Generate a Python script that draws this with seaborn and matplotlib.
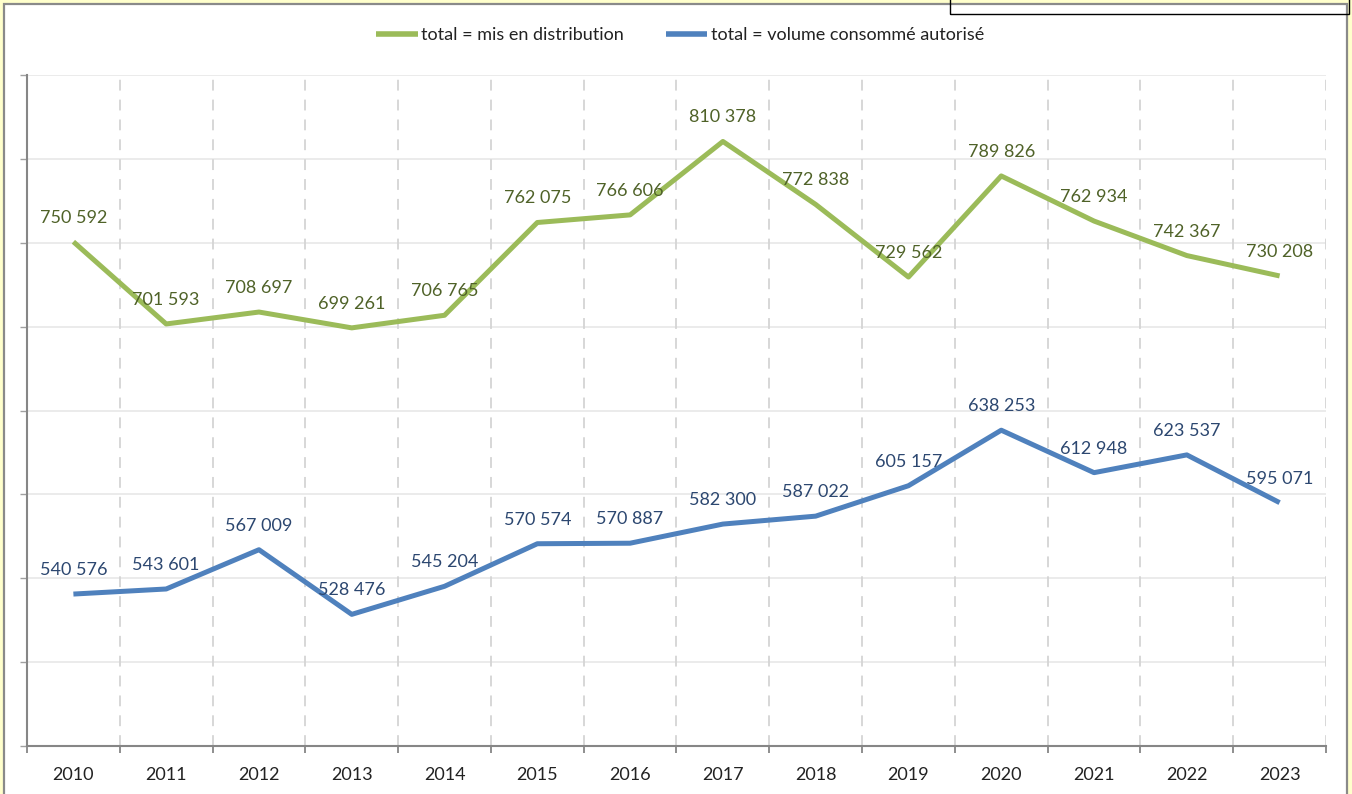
import numpy as np
import pandas as pd
import matplotlib
matplotlib.use("Agg")
import matplotlib.pyplot as plt
from matplotlib.patches import Rectangle
import seaborn as sns

years = ["2010", "2011", "2012", "2013", "2014", "2015", "2016",
         "2017", "2018", "2019", "2020", "2021", "2022", "2023"]
mis_en_distribution = [750592, 701593, 708697, 699261, 706765, 762075, 766606,
                       810378, 772838, 729562, 789826, 762934, 742367, 730208]
volume_consomme = [540576, 543601, 567009, 528476, 545204, 570574, 570887,
                   582300, 587022, 605157, 638253, 612948, 623537, 595071]
series_names = ["total = mis en distribution", "total = volume consommé autorisé"]

green = "#9BBB59"
blue = "#4F81BD"
green_txt = "#4F6228"
blue_txt = "#2C4770"

sns.set_theme(style="white")
plt.rcParams['font.family'] = ['Lato', 'DejaVu Sans']

df = pd.DataFrame({
    "pos": list(range(len(years))) * 2,
    "value": mis_en_distribution + volume_consomme,
    "series": [series_names[0]] * len(years) + [series_names[1]] * len(years),
})

fig = plt.figure(figsize=(13.52, 7.94), dpi=100)
fig.patch.set_facecolor("#FFFFCC")
# white chart area with grey frame
fig.patches.append(Rectangle((4 / 1352, -0.02), 1343 / 1352, 1.02 - 4 / 794,
                             transform=fig.transFigure, facecolor="white",
                             edgecolor="#8A8A8A", lw=1.6, zorder=-2))
# stray black box at top right
fig.patches.append(Rectangle((950 / 1352, 1 - 14 / 794), 399 / 1352, 0.05,
                             transform=fig.transFigure, facecolor="none",
                             edgecolor="black", lw=1.0, zorder=-1))

ax = fig.add_axes([27 / 1352, 48 / 794, 1299 / 1352, 671 / 794])
ax.set_zorder(1)
ax.set_facecolor("none")

sns.lineplot(data=df, x="pos", y="value", hue="series",
             palette=[green, blue], lw=3.6, ax=ax, legend=True,
             solid_joinstyle="round", solid_capstyle="butt", zorder=3)

ax.set_xlim(-0.5, len(years) - 0.5)
ax.set_ylim(450000, 850000)

# horizontal grid
ax.set_yticks(np.arange(450000, 850001, 50000))
ax.set_yticklabels([])
ax.yaxis.grid(True, color="#EBEBEB", lw=1.4)
# dashed category separators
for b in np.arange(0.5, len(years), 1.0):
    ax.axvline(b, color="#D4D4D4", lw=1.3, ls=(0, (6, 5)), zorder=1)

ax.set_xticks(np.arange(-0.5, len(years), 1.0))
ax.set_xticklabels([])
ax.set_xticks(range(len(years)), minor=True)
ax.set_xticklabels(years, minor=True, fontsize=13, color="#222222")
ax.tick_params(axis="x", which="major", direction="out", length=5,
               width=1.3, color="#868686", bottom=True)
ax.tick_params(axis="x", which="minor", length=0, pad=15)
ax.tick_params(axis="y", direction="out", length=5, width=1,
               color="#A0A0A0", left=True)

for s in ["top", "right"]:
    ax.spines[s].set_visible(False)
for s in ["left", "bottom"]:
    ax.spines[s].set_color("#868686")
    ax.spines[s].set_linewidth(1.5)

ax.set_xlabel("")
ax.set_ylabel("")

def fmt(v):
    return f"{v:,}".replace(",", " ")

for i, v in enumerate(mis_en_distribution):
    ax.annotate(fmt(v), (i, v), xytext=(0, 24), textcoords="offset pixels",
                ha="center", va="center", fontsize=13, color=green_txt, zorder=4)
for i, v in enumerate(volume_consomme):
    ax.annotate(fmt(v), (i, v), xytext=(0, 24), textcoords="offset pixels",
                ha="center", va="center", fontsize=13, color=blue_txt, zorder=4)

handles, labels = ax.get_legend_handles_labels()
ax.get_legend().remove()
for h in handles:
    h.set_linewidth(4)
fig.legend(handles, labels, loc="center", bbox_to_anchor=(680 / 1352, 1 - 35 / 794),
           ncol=2, frameon=False, fontsize=13, handlelength=2.3,
           handletextpad=0.2, columnspacing=2.3, labelcolor="#222222")

fig.savefig("out.png", dpi=100, facecolor=fig.get_facecolor())
